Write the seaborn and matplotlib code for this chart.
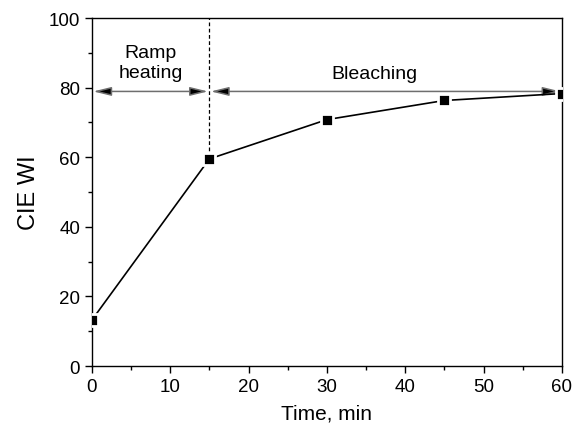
import matplotlib
matplotlib.use("Agg")
import matplotlib.pyplot as plt
import seaborn as sns
import pandas as pd
from matplotlib.ticker import MultipleLocator

time_min = [0, 15, 30, 45, 60]
cie_wi = [13.2, 59.5, 70.8, 76.3, 78.3]
phase_bounds = [0, 15, 60]
phase_labels = ["Ramp\nheating", "Bleaching"]
arrow_y = 78.9

sns.set_theme(style="ticks")
plt.rcParams['font.family'] = ['Liberation Sans', 'DejaVu Sans']
plt.rcParams.update({"text.color": "black", "axes.labelcolor": "black",
                     "xtick.color": "black", "ytick.color": "black"})

df = pd.DataFrame({"Time": time_min, "WI": cie_wi})
fig = plt.figure(figsize=(5.74, 4.27), dpi=100)
ax = fig.add_axes([0.160, 0.1405, 0.819, 0.815])

sns.lineplot(data=df, x="Time", y="WI", ax=ax, color="black", lw=1.2,
             marker="s", markersize=8, markerfacecolor="black",
             markeredgecolor="white", markeredgewidth=2, zorder=5)

ax.axvline(phase_bounds[1], ymin=0.6, ymax=1, color="black", ls=(0, (3, 2)), lw=0.9)
for i in range(2):
    ax.annotate("", xy=(phase_bounds[i], arrow_y), xytext=(phase_bounds[i + 1], arrow_y),
                arrowprops=dict(arrowstyle="<|-|>,head_length=0.9,head_width=0.22",
                                lw=1.1, mutation_scale=12, shrinkA=1, shrinkB=1,
                                fc="black", ec="#6e6e6e"))
ax.text(7.5, 87.2, phase_labels[0], ha="center", va="center", fontsize=14, linespacing=1.25)
ax.text(36.1, 84.0, phase_labels[1], ha="center", va="center", fontsize=14)

ax.set_xlim(0, 60)
ax.set_ylim(0, 100)
ax.xaxis.set_major_locator(MultipleLocator(10))
ax.xaxis.set_minor_locator(MultipleLocator(5))
ax.yaxis.set_major_locator(MultipleLocator(20))
ax.yaxis.set_minor_locator(MultipleLocator(10))
ax.tick_params(which="both", direction="out", top=False, right=False, labelsize=13.5, width=1, color="black")
ax.tick_params(which="major", length=5)
ax.tick_params(which="minor", length=3)
for s in ax.spines.values():
    s.set_color("black")
    s.set_linewidth(1)
ax.set_xlabel("Time, min", fontsize=15, labelpad=6)
ax.set_ylabel("CIE WI", fontsize=17, labelpad=6)

fig.savefig("out.png", dpi=100)
